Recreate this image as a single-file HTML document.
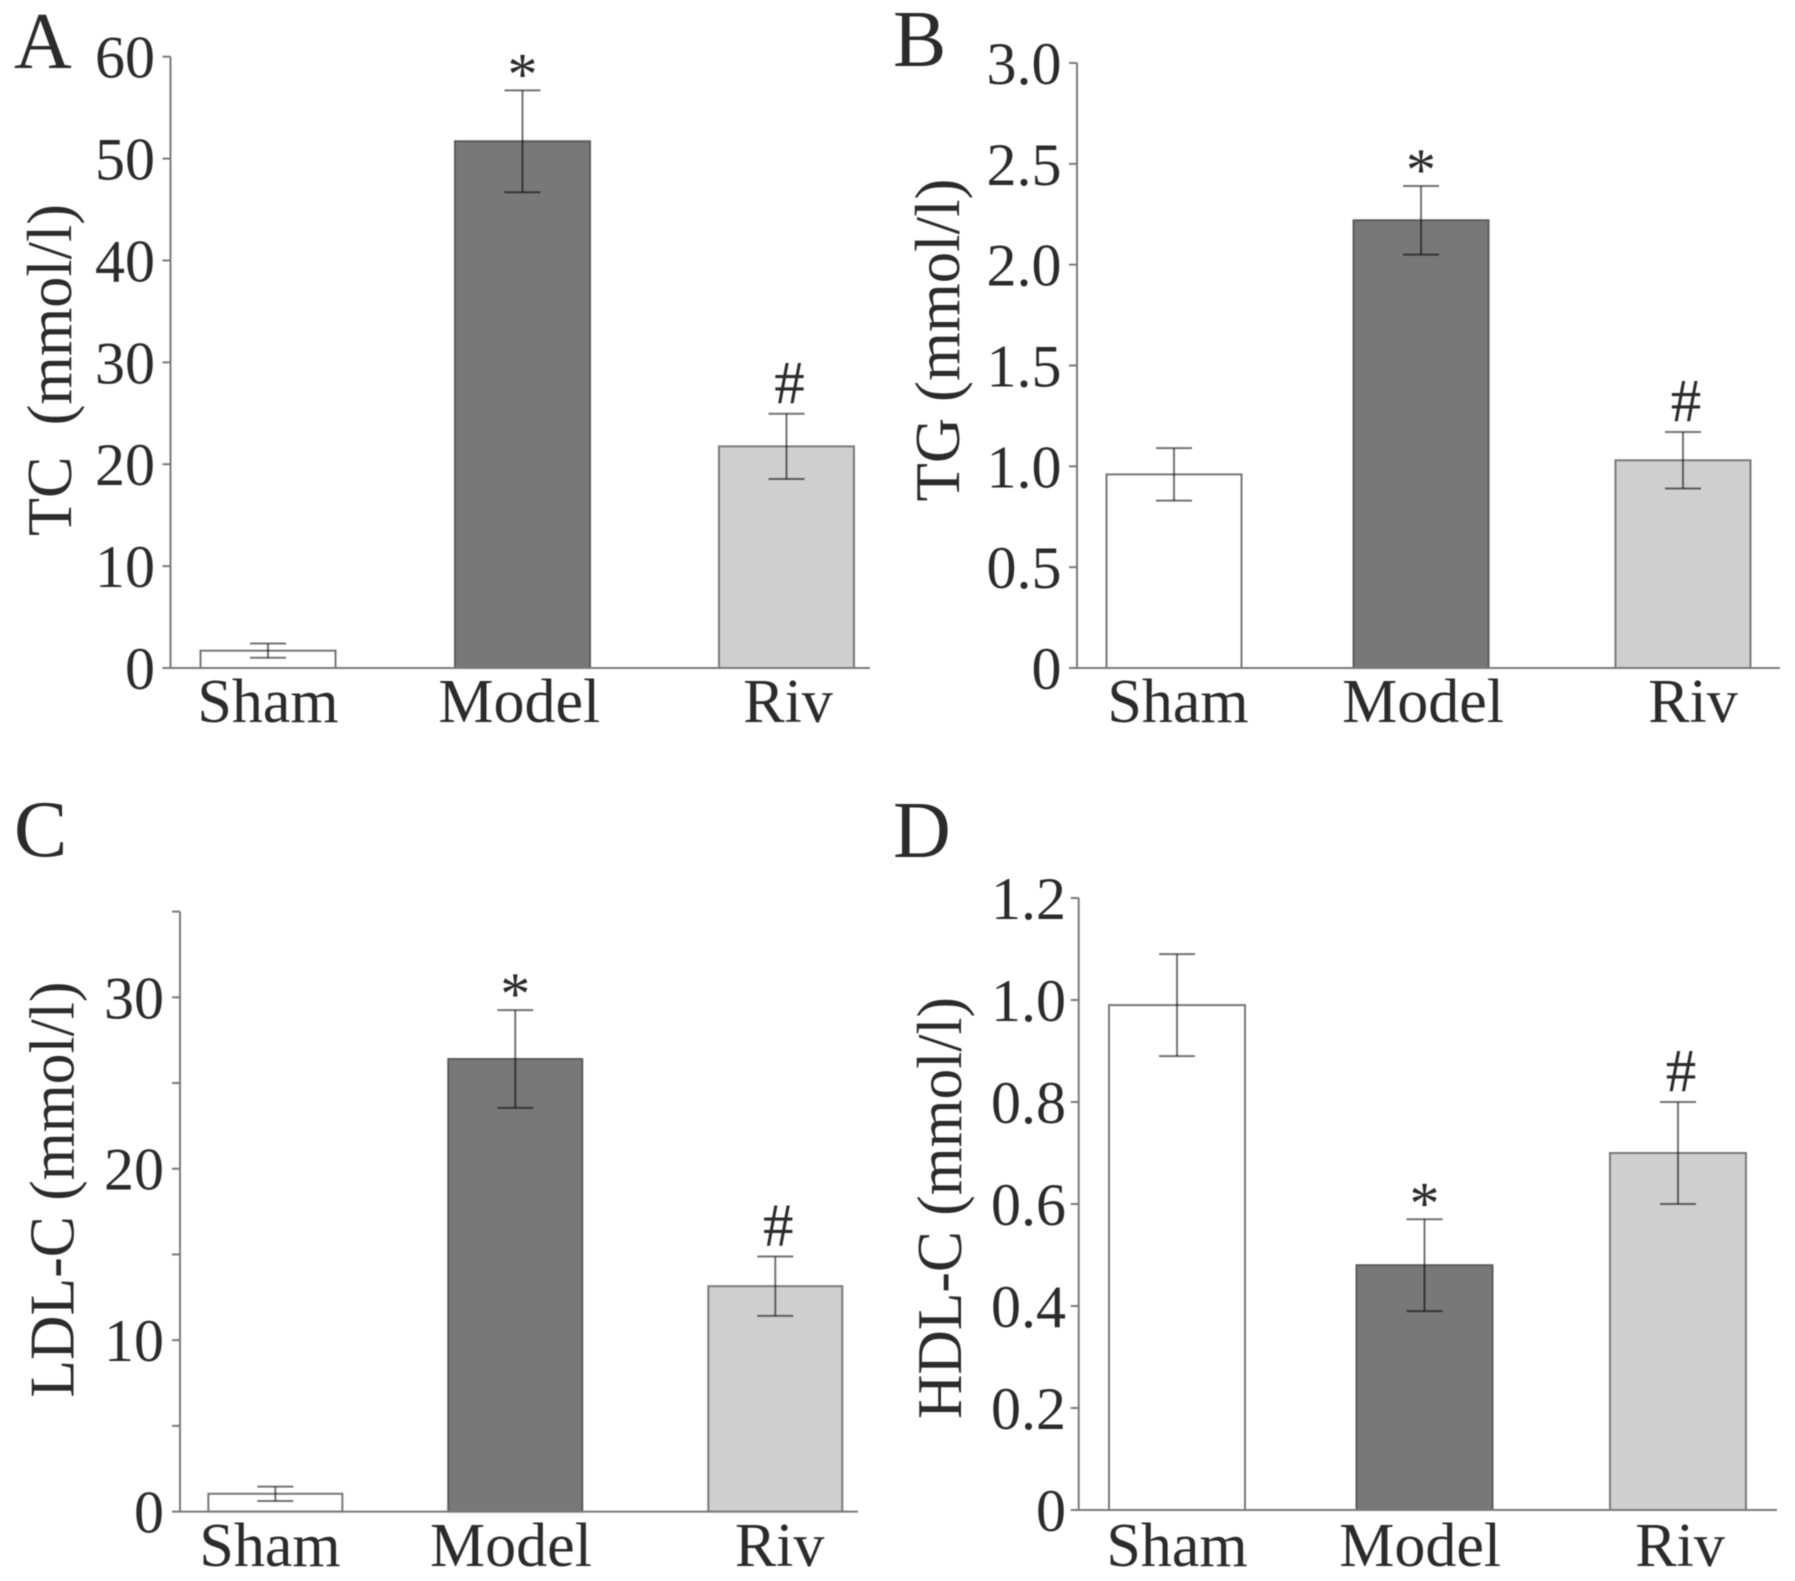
<!DOCTYPE html>
<html lang="en">
<head>
<meta charset="utf-8">
<title>Serum lipid bar charts</title>
<style>
html,body{margin:0;padding:0;background:#fff;}
body{width:1795px;height:1581px;overflow:hidden;}
svg{display:block;filter:blur(0.5px);}
text{font-family:"Liberation Serif",serif;fill:#2b2b2b;}
</style>
</head>
<body>
<svg id="figure" xmlns="http://www.w3.org/2000/svg" width="1795" height="1581" viewBox="0 0 1795 1581"></svg>
<script>
// ---------- Data ----------
const categories = ['Sham', 'Model', 'Riv'];

const tcMeans = [1.7, 51.7, 21.75];
const tcErrors = [0.7, 5.0, 3.2];
const tcMarks = ['', '*', '#'];
const tcTicks = [0, 10, 20, 30, 40, 50, 60];
const tcTickLabels = ['0', '10', '20', '30', '40', '50', '60'];

const tgMeans = [0.96, 2.22, 1.03];
const tgErrors = [0.13, 0.17, 0.14];
const tgMarks = ['', '*', '#'];
const tgTicks = [0, 0.5, 1.0, 1.5, 2.0, 2.5, 3.0];
const tgTickLabels = ['0', '0.5', '1.0', '1.5', '2.0', '2.5', '3.0'];

const ldlMeans = [1.04, 26.4, 13.15];
const ldlErrors = [0.42, 2.85, 1.73];
const ldlMarks = ['', '*', '#'];
const ldlTicks = [0, 5, 10, 15, 20, 25, 30, 35];
const ldlTickLabels = ['0', '', '10', '', '20', '', '30', ''];

const hdlMeans = [0.99, 0.48, 0.70];
const hdlErrors = [0.10, 0.09, 0.10];
const hdlMarks = ['', '*', '#'];
const hdlTicks = [0, 0.2, 0.4, 0.6, 0.8, 1.0, 1.2];
const hdlTickLabels = ['0', '0.2', '0.4', '0.6', '0.8', '1.0', '1.2'];

// ---------- Panel layout ----------
const panels = [
  { id: 'a', letter: 'A', letterX: 14, letterY: 68, title: 'TC\u00A0\u00A0(mmol/l)', titleX: 71, titleY: 370, titleLen: 332,
    means: tcMeans, errors: tcErrors, marks: tcMarks, ticks: tcTicks, tickLabels: tcTickLabels,
    axisX: 170.5, axisEnd: 870, top: 56.7, bottom: 668, max: 60, labelRight: 155, labelBase: 722, barWidth: 135,
    barSlots: [0.1394, 0.5032, 0.8806], catSlots: [0.1394, 0.4987, 0.8828] },
  { id: 'b', letter: 'B', letterX: 893, letterY: 66, title: 'TG (mmol/l)', titleX: 959, titleY: 340, titleLen: 323,
    means: tgMeans, errors: tgErrors, marks: tgMarks, ticks: tgTicks, tickLabels: tgTickLabels,
    axisX: 1077, axisEnd: 1780, top: 63, bottom: 668, max: 3, labelRight: 1061.5, labelBase: 722, barWidth: 135,
    barSlots: [0.138, 0.4894, 0.862], catSlots: [0.1437, 0.4922, 0.8762] },
  { id: 'c', letter: 'C', letterX: 14, letterY: 856, title: 'LDL-C (mmol/l)', titleX: 73.5, titleY: 1189.6, titleLen: 416,
    means: ldlMeans, errors: ldlErrors, marks: ldlMarks, ticks: ldlTicks, tickLabels: ldlTickLabels,
    axisX: 180, axisEnd: 858, top: 911.6, bottom: 1511.6, max: 35, labelRight: 164, labelBase: 1566, barWidth: 134,
    barSlots: [0.1406, 0.4945, 0.878], catSlots: [0.1327, 0.4882, 0.8844] },
  { id: 'd', letter: 'D', letterX: 893, letterY: 857, title: 'HDL-C (mmol/l)', titleX: 961, titleY: 1208, titleLen: 422,
    means: hdlMeans, errors: hdlErrors, marks: hdlMarks, ticks: hdlTicks, tickLabels: hdlTickLabels,
    axisX: 1078.7, axisEnd: 1777, top: 898, bottom: 1510, max: 1.2, labelRight: 1066, labelBase: 1566, barWidth: 136,
    barSlots: [0.1408, 0.4952, 0.8582], catSlots: [0.1408, 0.489, 0.8612] }
];

const barFills = ['#ffffff', '#787878', '#cfcfcf'];
const barEdges = ['#777777', '#5c5c5c', '#7a7a7a'];
const NS = 'http://www.w3.org/2000/svg';
const root = document.getElementById('figure');

function make(parent, tag, name, attrs, content) {
  const el = document.createElementNS(NS, tag);
  
  
  Object.keys(attrs).forEach(function (k) { el.setAttribute(k, attrs[k]); });
  if (content !== undefined) el.textContent = content;
  parent.appendChild(el);
  return el;
}

function drawPanel(p) {
  const yScale = function (v) { return p.bottom - (v / p.max) * (p.bottom - p.top); };
  const xScale = function (f) { return p.axisX + f * (p.axisEnd - p.axisX); };
  const g = make(root, 'g', 'panel-' + p.id, {});

  make(g, 'text', 'panel-letter-' + p.id, { x: p.letterX, y: p.letterY, 'font-size': 80 }, p.letter);

  const tx = 'rotate(-90 ' + p.titleX + ' ' + p.titleY + ')';
  make(g, 'text', 'y-axis-title-' + p.id, {
    x: p.titleX, y: p.titleY, 'font-size': 63, 'text-anchor': 'middle', transform: tx,
    textLength: p.titleLen, lengthAdjust: 'spacingAndGlyphs', fill: '#333333'
  }, p.title);

  p.means.forEach(function (m, i) {
    const cx = xScale(p.barSlots[i]);
    const yTop = yScale(m);
    make(g, 'rect', 'bar-' + p.id + '-' + categories[i].toLowerCase(), {
      x: cx - p.barWidth / 2, y: yTop, width: p.barWidth, height: p.bottom - yTop,
      fill: barFills[i], stroke: barEdges[i], 'stroke-width': 2
    });
  });

  make(g, 'line', 'y-axis-' + p.id, { x1: p.axisX, x2: p.axisX, y1: p.top, y2: p.bottom, stroke: '#7a7a7a', 'stroke-width': 2 });
  make(g, 'line', 'x-axis-' + p.id, { x1: p.axisX - 8, x2: p.axisEnd, y1: p.bottom, y2: p.bottom, stroke: '#7a7a7a', 'stroke-width': 2 });

  p.ticks.forEach(function (t, i) {
    const y = yScale(t);
    if (i > 0) {
      make(g, 'line', 'y-tick-' + p.id + '-' + i, { x1: p.axisX - 8, x2: p.axisX, y1: y, y2: y, stroke: '#7a7a7a', 'stroke-width': 2 });
    }
    if (p.tickLabels[i]) {
      make(g, 'text', 'y-tick-label-' + p.id + '-' + i, {
        x: p.labelRight, y: y + 21, 'font-size': 60, 'text-anchor': 'end'
      }, p.tickLabels[i]);
    }
  });

  p.means.forEach(function (m, i) {
    const cx = xScale(p.barSlots[i]);
    const hi = yScale(m + p.errors[i]);
    const lo = yScale(m - p.errors[i]);
    const name = 'error-bar-' + p.id + '-' + categories[i].toLowerCase();
    const eb = make(g, 'g', name, { stroke: 'rgba(0,0,0,0.55)', 'stroke-width': 2 });
    make(eb, 'line', name + '-stem', { x1: cx, x2: cx, y1: hi, y2: lo });
    make(eb, 'line', name + '-cap-top', { x1: cx - 18, x2: cx + 18, y1: hi, y2: hi });
    make(eb, 'line', name + '-cap-bottom', { x1: cx - 18, x2: cx + 18, y1: lo, y2: lo });

    if (p.marks[i] === '*') {
      make(g, 'text', 'significance-star-' + p.id, { x: cx, y: hi + 4, 'font-size': 60, 'text-anchor': 'middle' }, '*');
    } else if (p.marks[i] === '#') {
      make(g, 'text', 'significance-hash-' + p.id, { x: cx + 3, y: hi - 11, 'font-size': 61, 'text-anchor': 'middle' }, '#');
    }

    make(g, 'text', 'category-label-' + p.id + '-' + categories[i].toLowerCase(), {
      x: xScale(p.catSlots[i]), y: p.labelBase, 'font-size': 62, 'text-anchor': 'middle'
    }, categories[i]);
  });
}

panels.forEach(drawPanel);
</script>
</body>
</html>
